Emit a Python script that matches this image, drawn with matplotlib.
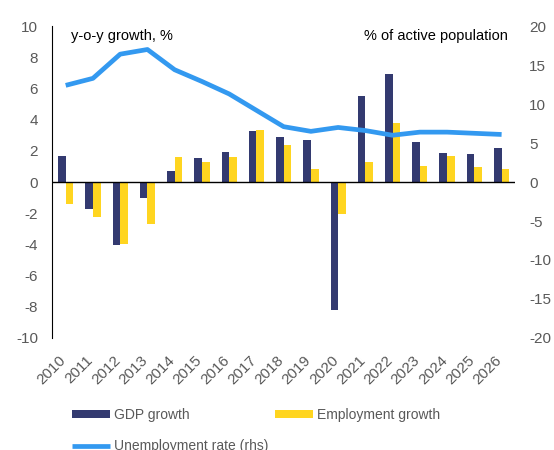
import numpy as np
import matplotlib
matplotlib.use("Agg")
import matplotlib.pyplot as plt
import matplotlib.transforms as mtransforms

plt.rcParams['font.family'] = ['Liberation Sans', 'DejaVu Sans']
plt.rcParams['axes.unicode_minus'] = False

years = [str(y) for y in range(2010, 2027)]
gdp_growth = [1.7, -1.7, -4.05, -1.0, 0.7, 1.55, 1.95, 3.25, 2.9, 2.7, -8.2,
              5.5, 6.9, 2.58, 1.84, 1.78, 2.16]
emp_growth = [-1.4, -2.27, -3.97, -2.7, 1.58, 1.31, 1.58, 3.31, 2.35, 0.83, -2.07,
              1.3, 3.8, 1.03, 1.69, 0.96, 0.86]
unemp_rate = [12.4, 13.3, 16.4, 17.0, 14.4, 12.9, 11.3, 9.2, 7.1, 6.5, 7.0,
              6.6, 6.0, 6.4, 6.4, 6.25, 6.1]

navy = '#333a70'
yellow = '#ffd520'
blue = '#3399f0'
grey = '#595959'

fig = plt.figure(figsize=(5.54, 4.5), dpi=100)
ax = fig.add_axes([0.094, 0.249, 0.836, 0.693])
ax2 = ax.twinx()

x = np.arange(len(years))
w = 0.28
b1 = ax.bar(x - w/2, gdp_growth, w, color=navy, label='GDP growth', zorder=2)
b2 = ax.bar(x + w/2, emp_growth, w, color=yellow, label='Employment growth', zorder=2)
ax.axhline(0, color='black', lw=1, zorder=3)
l1, = ax2.plot(x, unemp_rate, color=blue, lw=3.4, label='Unemployment rate (rhs)',
               solid_capstyle='butt')

ax.set_xlim(-0.5, len(years) - 0.5)
ax.set_ylim(-10, 10)
ax.set_yticks(np.arange(-10, 11, 2))
ax2.set_ylim(-20, 20)
ax2.set_yticks(np.arange(-20, 21, 5))

ax.set_xticks(x)
ax.set_xticklabels(years, rotation=45, ha='right', rotation_mode='anchor')
for a in (ax, ax2):
    a.tick_params(length=0, labelsize=11, colors=grey)
    for s in ('top', 'right', 'bottom'):
        a.spines[s].set_visible(False)
ax2.spines['left'].set_visible(False)
ax.spines['left'].set_color('black')
ax.tick_params(axis='x', pad=11)
ax.tick_params(axis='y', pad=10)
ax2.tick_params(axis='y', pad=10)

# nudge year labels a little to the left, like the original
shift = mtransforms.ScaledTranslation(-0.07, 0, fig.dpi_scale_trans)
for lbl in ax.get_xticklabels():
    lbl.set_transform(lbl.get_transform() + shift)

ax.text(0.04, 0.99, 'y-o-y growth, %', transform=ax.transAxes, fontsize=10.5,
        va='top', ha='left', color='black')
ax2.text(0.985, 0.99, '% of active population', transform=ax.transAxes, fontsize=10.5,
         va='top', ha='right', color='black')

leg = fig.legend([b1, l1, b2], ['GDP growth', 'Unemployment rate (rhs)', 'Employment growth'],
                 ncol=2, loc='upper left', bbox_to_anchor=(0.108, 0.122),
                 frameon=False, fontsize=10, handlelength=2.7, handleheight=0.5,
                 labelspacing=1.25, columnspacing=0.5, handletextpad=0.3)
for t in leg.get_texts():
    t.set_color(grey)

fig.savefig('out.png', dpi=100)
